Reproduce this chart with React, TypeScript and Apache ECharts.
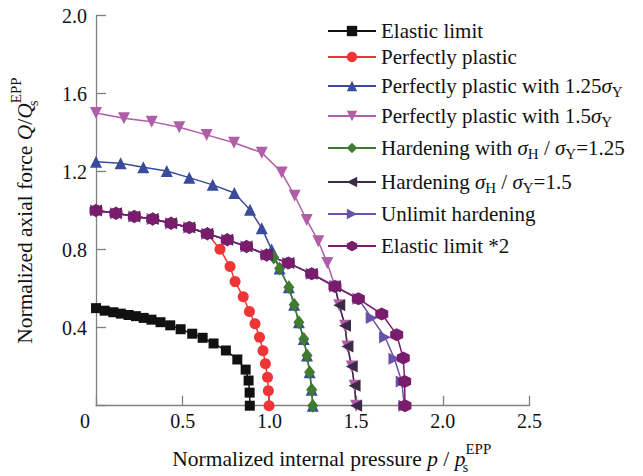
import React, { useEffect, useRef } from 'react';
import * as echarts from 'echarts';

const FONT = '"Liberation Serif", "Times New Roman", serif';

// x-axis / y-axis ticks
const xTicks = { min: 0, max: 2.5, interval: 0.5 };
const yTicks = { min: 0, max: 2.0, interval: 0.4 };

// Elastic limit
const elasticX = [0, 0.05, 0.1, 0.143, 0.188, 0.23, 0.275, 0.32, 0.372, 0.428, 0.488, 0.555, 0.615, 0.678, 0.749, 0.815, 0.863, 0.88, 0.886, 0.887];
const elasticY = [0.5, 0.487, 0.479, 0.472, 0.465, 0.459, 0.45, 0.441, 0.428, 0.412, 0.392, 0.369, 0.348, 0.319, 0.283, 0.237, 0.185, 0.129, 0.067, 0.0];

// Perfectly plastic
const ppX = [0, 0.115, 0.221, 0.327, 0.433, 0.538, 0.642, 0.715, 0.773, 0.802, 0.849, 0.885, 0.917, 0.943, 0.963, 0.977, 0.989, 0.994, 0.998];
const ppY = [1.0, 0.987, 0.97, 0.957, 0.935, 0.913, 0.881, 0.802, 0.713, 0.636, 0.558, 0.483, 0.42, 0.351, 0.282, 0.215, 0.146, 0.077, 0.0];

// Perfectly plastic with 1.25 sigmaY
const pp125X = [0, 0.142, 0.273, 0.408, 0.538, 0.673, 0.798, 0.888, 0.956, 1.013, 1.059, 1.112, 1.143, 1.17, 1.198, 1.217, 1.232, 1.244, 1.25];
const pp125Y = [1.25, 1.243, 1.222, 1.203, 1.169, 1.132, 1.09, 1.004, 0.91, 0.8, 0.703, 0.607, 0.517, 0.428, 0.342, 0.257, 0.172, 0.082, 0.0];

// Perfectly plastic with 1.5 sigmaY
const pp15X = [0, 0.161, 0.321, 0.48, 0.638, 0.796, 0.956, 1.071, 1.146, 1.215, 1.282, 1.334, 1.378, 1.403, 1.436, 1.45, 1.475, 1.491, 1.5];
const pp15Y = [1.5, 1.473, 1.456, 1.427, 1.388, 1.348, 1.297, 1.195, 1.076, 0.952, 0.843, 0.731, 0.611, 0.515, 0.41, 0.304, 0.201, 0.102, 0.0];

// Hardening sigmaH/sigmaY = 1.25
const h125X = [0, 0.115, 0.221, 0.327, 0.433, 0.538, 0.642, 0.757, 0.868, 0.984, 1.025, 1.059, 1.112, 1.143, 1.17, 1.198, 1.217, 1.232, 1.244, 1.25];
const h125Y = [1.0, 0.987, 0.97, 0.957, 0.935, 0.913, 0.881, 0.85, 0.816, 0.773, 0.76, 0.703, 0.607, 0.517, 0.428, 0.342, 0.257, 0.172, 0.082, 0.0];

// Hardening sigmaH/sigmaY = 1.5
const h15X = [0, 0.115, 0.221, 0.327, 0.433, 0.538, 0.642, 0.757, 0.868, 0.984, 1.109, 1.244, 1.378, 1.403, 1.436, 1.45, 1.475, 1.491, 1.5];
const h15Y = [1.0, 0.987, 0.97, 0.957, 0.935, 0.913, 0.881, 0.85, 0.816, 0.773, 0.731, 0.676, 0.611, 0.515, 0.41, 0.304, 0.201, 0.102, 0.0];

// Unlimit hardening
const unlimX = [0, 0.115, 0.221, 0.327, 0.433, 0.538, 0.642, 0.757, 0.868, 0.984, 1.109, 1.244, 1.378, 1.513, 1.59, 1.667, 1.721, 1.763, 1.778];
const unlimY = [1.0, 0.987, 0.97, 0.957, 0.935, 0.913, 0.881, 0.85, 0.816, 0.773, 0.731, 0.676, 0.611, 0.548, 0.449, 0.351, 0.241, 0.124, 0.0];

// Elastic limit *2
const el2X = [0, 0.115, 0.221, 0.327, 0.433, 0.538, 0.642, 0.757, 0.868, 0.984, 1.109, 1.244, 1.378, 1.513, 1.648, 1.734, 1.772, 1.78, 1.782];
const el2Y = [1.0, 0.987, 0.97, 0.957, 0.935, 0.913, 0.881, 0.85, 0.816, 0.773, 0.731, 0.676, 0.611, 0.548, 0.47, 0.364, 0.244, 0.124, 0.0];

const seriesNames = [
  'Elastic limit',
  'Perfectly plastic',
  'Perfectly plastic with 1.25σY',
  'Perfectly plastic with 1.5σY',
  'Hardening with σH/σY=1.25',
  'Hardening σH/σY=1.5',
  'Unlimit hardening',
  'Elastic limit *2',
];
const legendLabels = [
  'Elastic limit',
  'Perfectly plastic',
  'Perfectly plastic with 1.25{s|σ}{sub|Y}',
  'Perfectly plastic with 1.5{s|σ}{sub|Y}',
  'Hardening with {s|σ}{sub|H} / {s|σ}{sub|Y}=1.25',
  'Hardening {s|σ}{sub|H} / {s|σ}{sub|Y}=1.5',
  'Unlimit hardening',
  'Elastic limit *2',
];
const legendRowY = [31, 57, 86, 116, 148, 182, 214, 246];

const xTitle = 'Normalized internal pressure {i|p} / {i|p}{sb|s}{sp|EPP}';
const yTitle = 'Normalized axial force {i|Q}/{i|Q}{sb|s}{sp|EPP}';

const colors = ['#111111', '#ee3434', '#3a4b9c', '#b15ea9', '#3f7c2f', '#3b2b46', '#6a52aa', '#7a1c6c'];
const symbols = [
  'rect',
  'circle',
  'triangle',
  'path://M0,0L10,0L5,9Z',
  'diamond',
  'path://M9,0L9,10L0,5Z',
  'path://M0,0L0,10L9,5Z',
  'path://M5,0L9.33,2.5L9.33,7.5L5,10L0.67,7.5L0.67,2.5Z',
];
const symbolSizes: any[] = [10, 11, 12, 12, [11, 14], 12, 12, 13];

const pairs = (xs: number[], ys: number[]) => xs.map((x, i) => [x, ys[i]]);
const seriesData = [
  pairs(elasticX, elasticY),
  pairs(ppX, ppY),
  pairs(pp125X, pp125Y),
  pairs(pp15X, pp15Y),
  pairs(h125X, h125Y),
  pairs(h15X, h15Y),
  pairs(unlimX, unlimY),
  pairs(el2X, el2Y),
];

const titleRich = {
  i: { fontFamily: FONT, fontStyle: 'italic', fontSize: 21.5, lineHeight: 40, color: '#111' },
  sb: { fontFamily: FONT, fontSize: 14, lineHeight: 23, padding: [17, 0, 0, 0], width: 0, color: '#111' },
  sp: { fontFamily: FONT, fontSize: 15, lineHeight: 21, padding: [0, 0, 19, 0], color: '#111' },
};

export default function App() {
  const ref = useRef<HTMLDivElement>(null);
  useEffect(() => {
    if (!ref.current) return;
    const chart = echarts.init(ref.current, undefined, { renderer: 'svg' });
    const axisColor = '#808080';
    const option: any = {
      animation: false,
      backgroundColor: '#ffffff',
      grid: { left: 96, right: 113.5, top: 15.5, bottom: 70.3, containLabel: false, outerBoundsMode: 'none' },
      xAxis: {
        type: 'value',
        min: xTicks.min,
        max: xTicks.max,
        interval: xTicks.interval,
        splitLine: { show: false },
        axisLine: { lineStyle: { color: axisColor, width: 1.3 } },
        axisTick: { inside: true, length: 10, lineStyle: { color: axisColor, width: 1.3 } },
        axisLabel: {
          margin: 5,
          fontSize: 20,
          fontFamily: FONT,
          color: '#111',
          showMaxLabel: true,
          showMinLabel: true,
          formatter: (v: number) => (v === 0 ? '{z|0}' : v.toFixed(1)),
          rich: { z: { fontSize: 20, fontFamily: FONT, color: '#111', padding: [0, 22, 0, 0] } },
        },
        name: xTitle,
        nameLocation: 'middle',
        nameGap: 33,
        nameTextStyle: { fontFamily: FONT, fontSize: 21.5, lineHeight: 40, color: '#111', padding: [0, 0, 0, 38], rich: titleRich },
      },
      yAxis: {
        type: 'value',
        min: yTicks.min,
        max: yTicks.max,
        interval: yTicks.interval,
        splitLine: { show: false },
        axisLine: { lineStyle: { color: axisColor, width: 1.3 } },
        axisTick: { inside: true, length: 10, lineStyle: { color: axisColor, width: 1.3 } },
        axisLabel: {
          margin: 9,
          fontSize: 20,
          fontFamily: FONT,
          color: '#111',
          showMaxLabel: true,
          formatter: (v: number) => (v === 0 ? '' : v.toFixed(1)),
        },
        name: yTitle,
        nameLocation: 'middle',
        nameGap: 51,
        nameTextStyle: { fontFamily: FONT, fontSize: 21.5, lineHeight: 40, color: '#111', rich: titleRich },
      },
      legend: seriesNames.map((n, i) => ({
        data: [n],
        left: 327,
        top: legendRowY[i] - 17,
        orient: 'vertical',
        padding: 0,
        itemWidth: 48,
        itemHeight: 13,
        formatter: () => legendLabels[i],
        textStyle: {
          fontFamily: FONT,
          fontSize: 21,
          lineHeight: 34,
          color: '#111',
          rich: {
            s: { fontFamily: FONT, fontStyle: 'italic', fontSize: 21, lineHeight: 34, color: '#111' },
            sub: { fontFamily: FONT, fontSize: 15, lineHeight: 22, padding: [12, 0, 0, 0], color: '#111' },
          },
        },
      })),
      series: seriesNames.map((n, i) => ({
        name: n,
        type: 'line',
        data: seriesData[i],
        symbol: symbols[i],
        symbolSize: symbolSizes[i],
        showSymbol: true,
        lineStyle: { color: colors[i], width: 1.5 },
        itemStyle: { color: colors[i] },
        emphasis: { disabled: true },
      })),
    };
    chart.setOption(option);
    return () => chart.dispose();
  }, []);
  return <div ref={ref} style={{ position: 'absolute', left: 0, top: 0, width: 643, height: 476 }} />;
}
